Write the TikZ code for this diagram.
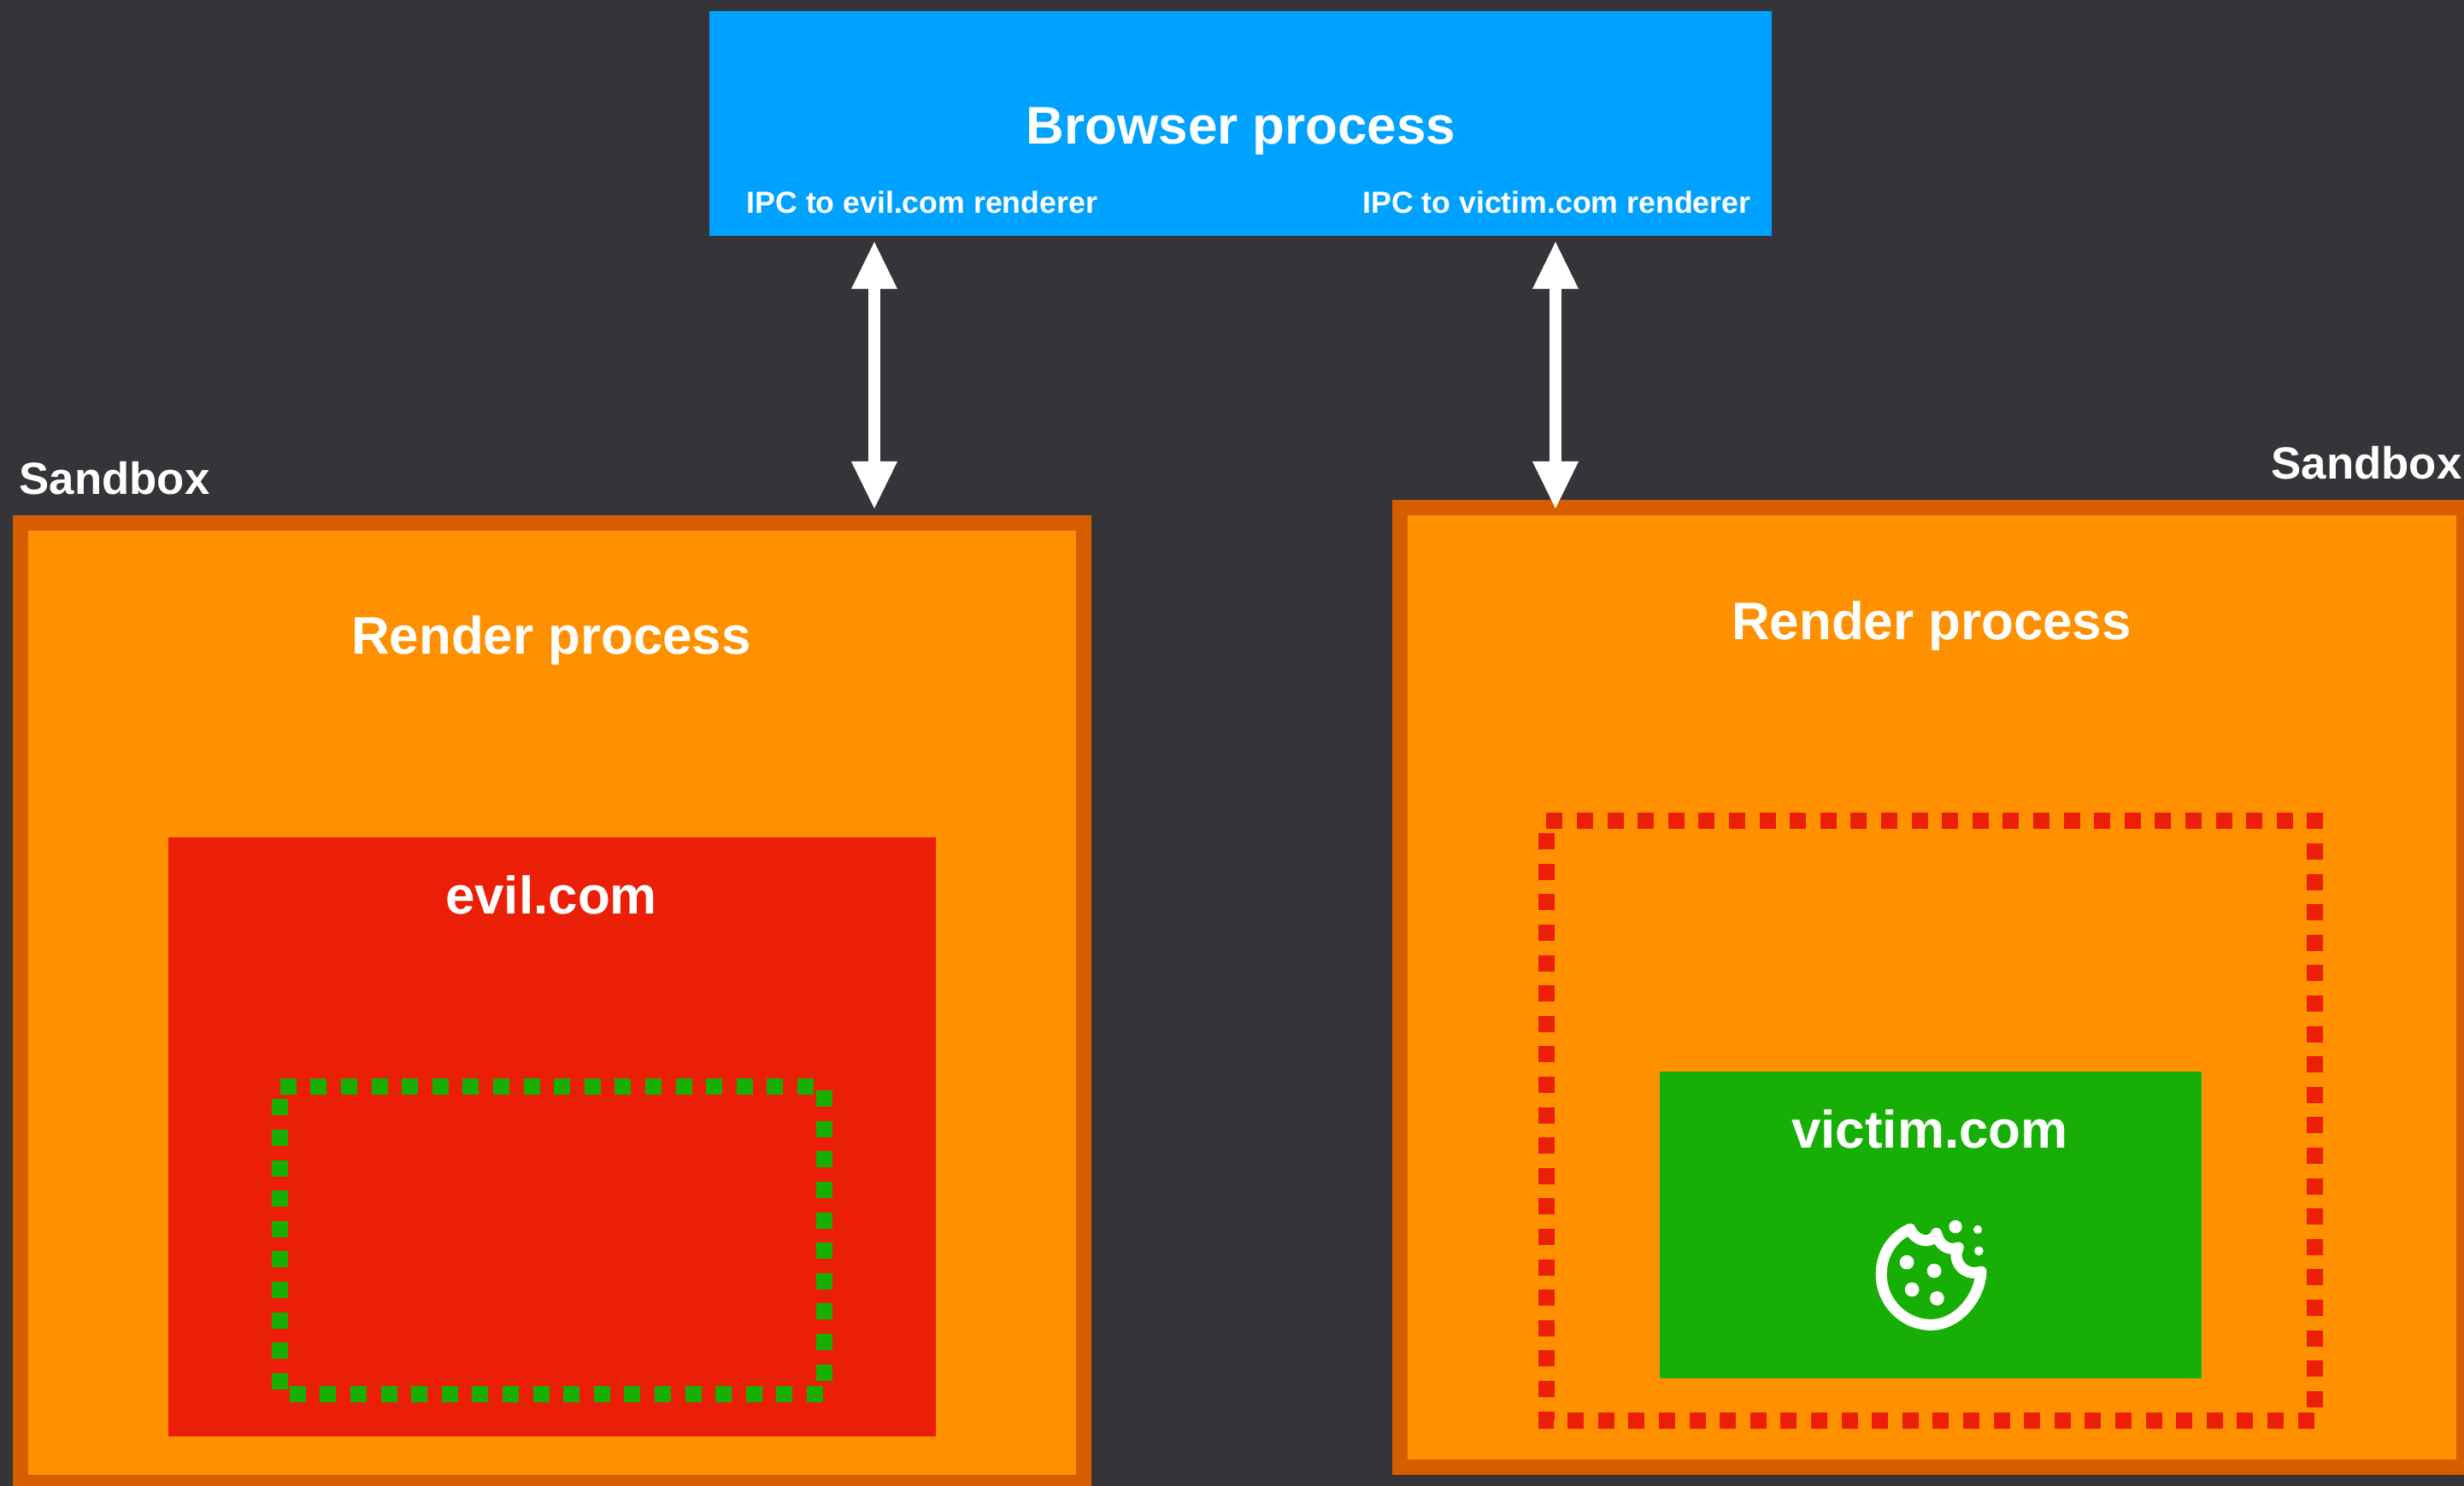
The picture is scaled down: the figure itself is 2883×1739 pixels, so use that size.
\documentclass[tikz,border=0pt]{standalone}
\usepackage{fontspec}
\setmainfont{Liberation Sans}
\usetikzlibrary{arrows.meta,positioning}

\definecolor{slate}{HTML}{353439}
\definecolor{browserblue}{HTML}{00A2FF}
\definecolor{renderorange}{HTML}{FF9100}
\definecolor{sandboxrim}{HTML}{D65E00}
\definecolor{evilred}{HTML}{EB1F07}
\definecolor{victimgreen}{HTML}{17AF06}

\tikzset{
  box/.style={rectangle,inner sep=0pt,outer sep=0pt,anchor=north west},
  caption/.style={text=white,font=\fontsize{17.6}{20}\selectfont\bfseries,inner sep=0pt,anchor=base},
  small/.style={text=white,font=\fontsize{10.14}{12}\selectfont\bfseries,inner sep=0pt,anchor=base},
  sandboxlabel/.style={text=white,font=\fontsize{15}{18}\selectfont\bfseries,inner sep=0pt,anchor=base},
  sandbox/.style={box,fill=renderorange,draw=sandboxrim,line width=.18cm},
  dots/.style={line width=.19cm,dash pattern=on .19cm off .1658cm},
  ipc/.style={white,line width=.14cm,{Triangle[length=.55cm,width=.54cm,line width=0pt]}-{Triangle[length=.55cm,width=.54cm,line width=0pt]}}
}

\begin{document}
\begin{tikzpicture}[x=.01cm,y=-.01cm]
  \useasboundingbox (0,0) rectangle (2883,1739);
  \fill[slate] (0,0) rectangle (2883,1739);

  \node[box,fill=browserblue,minimum width=12.42cm,minimum height=2.63cm] (browser) at (830,13) {};
  \node[sandbox,minimum width=12.43cm,minimum height=11.22cm] (sandboxl) at (24,612) {};
  \node[sandbox,minimum width=12.44cm,minimum height=11.22cm] (sandboxr) at (1638,594) {};
  \node[box,fill=evilred,minimum width=8.97cm,minimum height=7.01cm] (evil) at (197,980) {};
  \node[box,fill=victimgreen,minimum width=6.34cm,minimum height=3.59cm] (victim) at (1942,1254) {};

  \node[caption] (browsertext) at (1452,168) {Browser process};
  \node[small,anchor=base west] (ipcl) at (873,249) {IPC to evil.com renderer};
  \node[small,anchor=base east] (ipcr) at (2049,249) {IPC to victim.com renderer};
  \node[sandboxlabel,anchor=base west] (sandboxltext) at (22,578) {Sandbox};
  \node[sandboxlabel,anchor=base east] (sandboxrtext) at (2881,560) {Sandbox};
  \node[caption] (renderl) at (645,765) {Render process};
  \node[caption] (renderr) at (2260,748) {Render process};
  \node[caption] (eviltext) at (645,1069) {evil.com};
  \node[caption] (victimtext) at (2258,1343) {victim.com};

  \draw[dots,victimgreen] (327.7,1271.7) -- (964,1271.7) -- (964,1631.3) -- (327.7,1631.3) -- cycle;
  \draw[dots,evilred] (1809.3,960.7) -- (2708.7,960.7) -- (2708.7,1662.3) -- (1809.3,1662.3) -- cycle;

  \coordinate (portl) at (1023,300);
  \coordinate (portr) at (1820,300);
  \path (browser.south -| portl) edge[ipc,shorten <=.07cm,shorten >=.17cm] (sandboxl.north -| portl)
        (browser.south -| portr) edge[ipc,shorten <=.07cm,shorten >=-.01cm] (sandboxr.north -| portr);

  % cookie
  \begin{scope}[shift={(2100,1380)},x=.00333cm,y=-.00333cm]
    \draw[white,line width=.13cm,line cap=round,line join=round]
      (655,325) .. controls (650,420) and (570,512) .. (480,512)
      .. controls (380,512) and (304,430) .. (304,335)
      .. controls (304,265) and (340,205) .. (405,175)
      .. controls (420,215) and (480,235) .. (498,190)
      .. controls (505,230) and (540,255) .. (575,240)
      .. controls (550,285) and (595,345) .. (655,325);
    \foreach \px/\py/\pr in {565/167/23,643/177/15,647/252/16,394/292/25,490/322/25,412/388/25,500/419/25}
      \fill[white] (\px,\py) circle[radius=\pr*.0333mm];
  \end{scope}
\end{tikzpicture}
\end{document}
